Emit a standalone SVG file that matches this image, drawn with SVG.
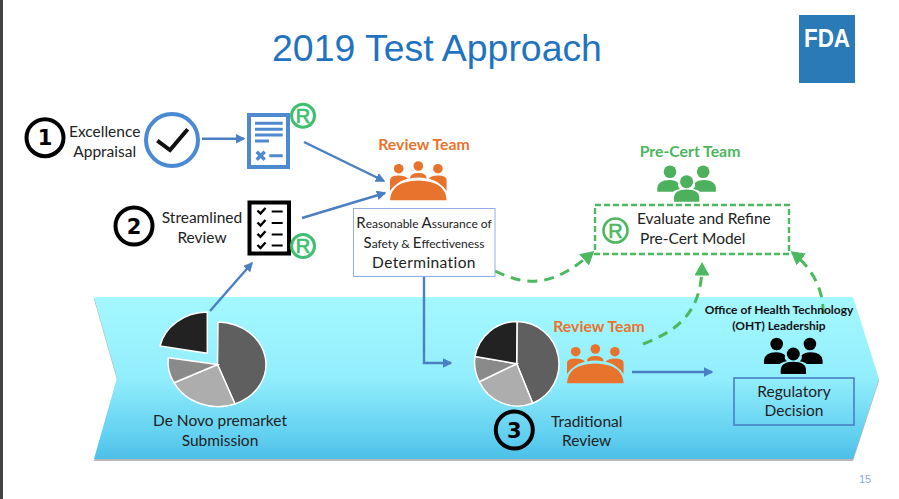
<svg xmlns="http://www.w3.org/2000/svg" xmlns:xlink="http://www.w3.org/1999/xlink" width="899" height="499" viewBox="0 0 899 499">
<style>
text{font-family:"Lato","Liberation Sans",sans-serif;fill:#222;text-anchor:middle}
.lab{font-size:15.5px}
.team{font-size:15.8px;font-weight:700}
.orange{fill:#e8732c}
.green{fill:#4cb560}
.num{font-family:"DejaVu Sans",sans-serif;font-size:21px;font-weight:700;fill:#000}
.ring{fill:none;stroke:#000;stroke-width:4}
.reg{fill:none;stroke:#3fbf6f;stroke-width:3}
.regt{font-family:"Liberation Sans",sans-serif;font-size:20px;fill:#3fbf6f;stroke:#3fbf6f;stroke-width:.7}
.blue{fill:none;stroke:#4a7fc4;stroke-width:2.4;marker-end:url(#ab)}
.dash{fill:none;stroke:#4cb860;stroke-width:3;stroke-dasharray:10 7;marker-end:url(#ag)}
.sl{stroke:#fff;stroke-width:1.5}
.raa{font-size:12px}
.raa tspan{font-size:15px}
</style>
<defs>
<linearGradient id="bg" x1="0" y1="0" x2="0" y2="1">
<stop offset="0" stop-color="#a4f8ff"/><stop offset=".5" stop-color="#92eefc"/><stop offset=".85" stop-color="#62d0f0"/><stop offset="1" stop-color="#4dc0e8"/>
</linearGradient>
<marker id="ab" markerWidth="4" markerHeight="4" refX="3.4" refY="2" orient="auto"><path d="M0,0L4,2L0,4Z" fill="#4a7fc4"/></marker>
<marker id="ag" markerWidth="5" markerHeight="5" refX="3.5" refY="2.5" orient="auto"><path d="M0,0L4.5,2.5L0,5Z" fill="#4cb860"/></marker>
<g id="room">
<circle cx="8.7" cy="7.7" r="4.8"/><circle cx="28.3" cy="5" r="4.8"/><circle cx="47.9" cy="7.7" r="4.8"/>
<path d="M0,30V19Q0,14.5 8.5,14.5Q15,14.5 18,17.5Q6,21 0,30Z"/>
<path d="M20,17.5Q20,12 28.3,12Q36.6,12 36.6,17.5Q28.3,15.5 20,17.5Z"/>
<path d="M56.6,30V19Q56.6,14.5 48,14.5Q41.6,14.5 38.6,17.5Q50.6,21 56.6,30Z"/>
<path d="M0,39.3Q1,20 28.3,19.5Q55.6,20 56.6,39.3Z"/>
</g>
<g id="people">
<circle cx="12.7" cy="6.7" r="6.3"/><circle cx="45.9" cy="6.7" r="6.3"/><circle cx="29.3" cy="16.7" r="6.5"/>
<path d="M0,26.7V23Q1,15 12,15Q18,15 21,18Q20,22 23,24Q17,25 16,26.7Z"/>
<path d="M58.6,26.7V23Q57.6,15 46.6,15Q40.6,15 37.6,18Q38.6,22 35.6,24Q41.6,25 42.6,26.7Z"/>
<path d="M16.7,36.7V33Q17,24.5 29.3,24.5Q42,24.5 42,33V36.7Z"/>
</g>
</defs>

<rect id="edge" x="0" y="0" width="3" height="499" fill="#444"/>
<text id="title" x="437" y="61" style="font-family:'Liberation Sans',sans-serif;font-size:37.4px;fill:#1f73c1">2019 Test Approach</text>
<g id="fda-logo"><rect x="799" y="15" width="56" height="68" fill="#2a7ab8"/><text x="827" y="46.5" textLength="46" lengthAdjust="spacingAndGlyphs" style="font-family:'Liberation Sans',sans-serif;font-size:25px;font-weight:700;fill:#fff">FDA</text></g>
<text id="page" x="865" y="483" style="font-family:'Liberation Sans',sans-serif;font-size:11px;fill:#8fa6d8">15</text>

<g id="band">
<polygon points="94,299 853,299 879,381 853,461 94,461 117,380" fill="#999" opacity=".7"/>
<polygon points="94,297 853,297 879,379 853,459 94,459 117,378" fill="url(#bg)"/>
</g>

<g id="connectors">
<path class="blue" d="M202,138.7H244"/>
<path class="blue" d="M304,142L384,181"/>
<path class="blue" d="M302,218L385,193"/>
<path class="blue" d="M210,311L252,263"/>
<path class="blue" d="M424,276V363H451"/>
<path class="blue" d="M632,372H712"/>
<path class="dash" d="M495,271C530,288 555,285 592,253"/>
<path class="dash" d="M643,344C680,330 702,310 702,265"/>
<path class="dash" d="M823,314C824,290 812,268 793,253"/>
</g>

<g id="step1"><circle class="ring" cx="45" cy="137.7" r="18.5"/><text class="num" x="45" y="145.3">1</text></g>
<g id="excellence-label"><text class="lab" x="104.7" y="136.7">Excellence</text><text class="lab" x="104.7" y="156.7">Appraisal</text></g>
<g id="check-circle"><circle cx="172" cy="140" r="26" fill="#fff" stroke="#4a8ad4" stroke-width="4"/><path d="M157.3,140.7L170,150L187.7,129.3" fill="none" stroke="#111" stroke-width="4"/></g>
<g id="doc">
<rect x="249" y="115" width="39" height="52" fill="#fff" stroke="#4f8ad0" stroke-width="4"/>
<path d="M255,123.3H282.7M255,129.3H282.7M255,135H282.7M255,141H269M269.3,155.7H282.7" stroke="#4f8ad0" stroke-width="3" fill="none"/>
<path d="M256.7,151.7L264.7,159.7M264.7,151.7L256.7,159.7" stroke="#4f8ad0" stroke-width="3.4" fill="none"/>
</g>
<g id="reg1"><circle class="reg" cx="303" cy="115.7" r="11.5"/><text class="regt" x="303" y="122.8">R</text></g>

<g id="step2"><circle class="ring" cx="134" cy="226" r="18.5"/><text class="num" x="134" y="234">2</text></g>
<g id="streamlined-label"><text class="lab" x="202" y="223">Streamlined</text><text class="lab" x="202" y="243">Review</text></g>
<g id="checklist">
<rect x="249.5" y="202.5" width="39.5" height="51" fill="#fff" stroke="#000" stroke-width="4"/>
<path d="M257.5,210.5l3,3l5,-5.5M257.5,222.5l3,3l5,-5.5M257.5,233.8l3,3l5,-5.5M257.5,245l3,3l5,-5.5" stroke="#000" stroke-width="2.4" fill="none"/>
<path d="M271.7,211.5H282.7M271.7,223H282.7M271.7,234.5H282.7M271.7,245.5H282.7" stroke="#000" stroke-width="2.2" fill="none"/>
</g>
<g id="reg2"><circle class="reg" cx="303" cy="246" r="11.5"/><text class="regt" x="303" y="253.1">R</text></g>

<g id="review-team-1"><text class="team orange" x="424" y="150">Review Team</text><use xlink:href="#room" href="#room" x="390" y="161" fill="#e8732c"/></g>
<g id="raa-box">
<rect x="353.5" y="208.5" width="141.5" height="68" fill="#fff" stroke="#8fb0e0" stroke-width="1"/>
<text class="raa" x="424" y="227.7"><tspan>R</tspan>easonable <tspan>A</tspan>ssurance of</text>
<text class="raa" x="424" y="248.3"><tspan>S</tspan>afety &amp; <tspan>E</tspan>ffectiveness</text>
<text x="424" y="268.3" style="font-size:15.5px;letter-spacing:.4px">Determination</text>
</g>

<g id="precert-team"><text class="team green" x="690" y="157">Pre-Cert Team</text><use xlink:href="#people" href="#people" x="657.3" y="165" fill="#4cb05c"/></g>
<g id="precert-box">
<rect x="595" y="205" width="194" height="49" fill="#fff" stroke="#4cb860" stroke-width="2.4" stroke-dasharray="6 3"/>
<circle cx="615.5" cy="230.5" r="12" fill="none" stroke="#4cb860" stroke-width="2.6"/><text x="615.5" y="237.7" style="font-family:'Liberation Sans',sans-serif;font-size:20px;fill:#4cb860;stroke:#4cb860;stroke-width:.6">R</text>
<text class="lab" x="637" y="224" style="text-anchor:start">Evaluate and Refine</text>
<text class="lab" x="640" y="244" style="text-anchor:start">Pre-Cert Model</text>
</g>

<g id="pie-1">
<path class="sl" d="M217.5,364.5L218,322A49,42.5 0 0 1 235,404Z" fill="#5f5f5f"/>
<path class="sl" d="M217.5,364.5L235,404A49,42.5 0 0 1 174,382.7Z" fill="#adadad"/>
<path class="sl" d="M217.5,364.5L174,382.7A49,42.5 0 0 1 168.3,357.7Z" fill="#8a8a8a"/>
<path class="sl" d="M207.3,353.3L207.3,312A49,42.5 0 0 0 160,346Z" fill="#222"/>
</g>
<g id="denovo-label"><text class="lab" x="220" y="426">De Novo premarket</text><text class="lab" x="220" y="445.7">Submission</text></g>

<g id="pie-2">
<path class="sl" d="M516.7,363.7L517,321.5A42.5,42.5 0 0 1 532.7,403.3Z" fill="#5f5f5f"/>
<path class="sl" d="M516.7,363.7L532.7,403.3A42.5,42.5 0 0 1 479.3,381.7Z" fill="#adadad"/>
<path class="sl" d="M516.7,363.7L479.3,381.7A42.5,42.5 0 0 1 475,356.5Z" fill="#8a8a8a"/>
<path class="sl" d="M516.7,363.7L475,356.5A42.5,42.5 0 0 1 517,321.5Z" fill="#222"/>
</g>
<g id="review-team-2"><text class="team orange" x="599" y="332">Review Team</text><use xlink:href="#room" href="#room" x="567" y="344" fill="#e8732c"/></g>
<g id="step3"><circle class="ring" cx="514.3" cy="430" r="18.5"/><text class="num" x="514.3" y="438">3</text></g>
<g id="traditional-label"><text class="lab" x="586.7" y="426.7">Traditional</text><text class="lab" x="586.7" y="446">Review</text></g>

<g id="oht"><text x="779" y="314" style="font-size:12px;font-weight:700;fill:#111">Office of Health Technology</text><text x="779" y="330" style="font-size:12px;font-weight:700;fill:#111">(OHT) Leadership</text><use xlink:href="#people" href="#people" x="764" y="337.3" fill="#000"/></g>
<g id="regulatory"><rect x="734" y="378" width="120" height="47" fill="none" stroke="#4a7fc4" stroke-width="1.6"/><text class="lab" x="794" y="397">Regulatory</text><text class="lab" x="794" y="416">Decision</text></g>
</svg>
